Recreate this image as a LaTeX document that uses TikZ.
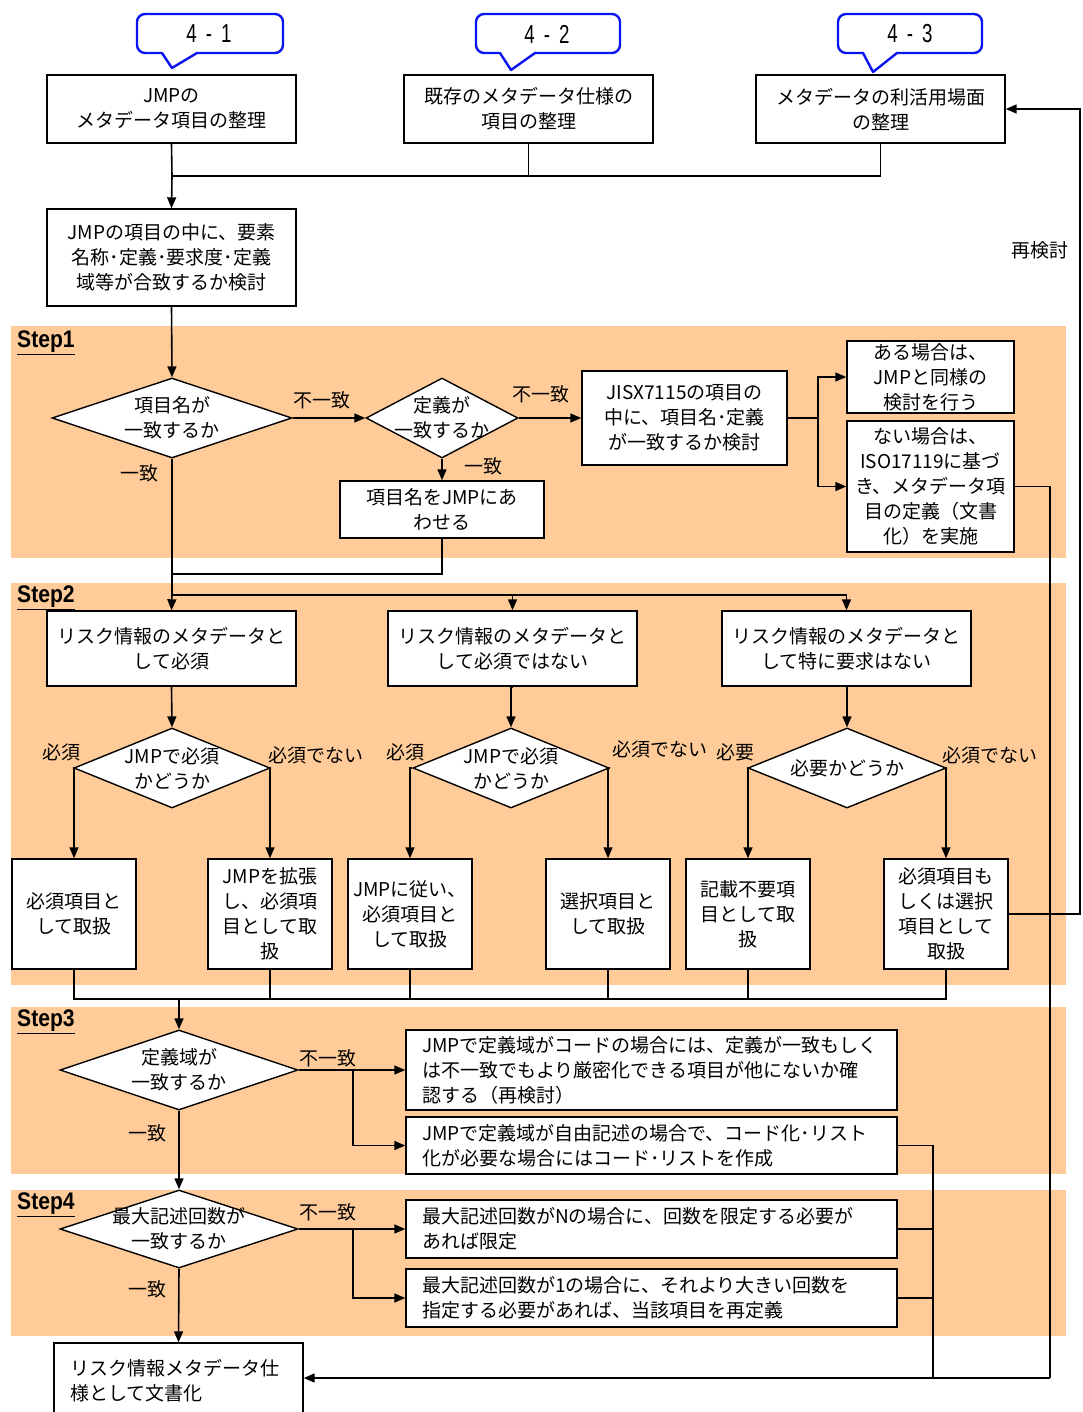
\documentclass[tikz,border=0pt]{standalone}
\usepackage{fontspec}
\usetikzlibrary{arrows.meta,shapes.geometric}
\newfontfamily\jp{Noto Sans CJK JP}
\newfontfamily\narrowfont[FakeStretch=0.72]{Liberation Sans}
\newfontfamily\stepfont[FakeStretch=0.88]{Liberation Sans}
\definecolor{peach}{HTML}{FFCC99}
\definecolor{callblue}{HTML}{0A14F0}
\begin{document}
\begin{tikzpicture}[x=1pt,y=-1pt]
\tikzset{
 base/.style={font=\jp\fontsize{19}{25}\selectfont},
 box/.style={base, draw, fill=white, line width=1.4pt, align=center, inner sep=0pt},
 lbox/.style={box, align=left, text width=459pt, minimum width=491pt},
 dia/.style={draw, fill=white, diamond, line width=1.4pt, inner sep=0pt},
 lab/.style={base, inner sep=0pt, align=center},
 conn/.style={line width=1.6pt},
 arr/.style={conn, -{Triangle[length=11pt,width=9pt]}},
 band/.style={fill=peach, draw=none},
 callout/.style={draw=callblue, fill=white, line width=2.4pt, line join=round},
 calltext/.style={font=\narrowfont\fontsize{26}{26}\selectfont, inner sep=0pt},
 steplab/.style={font=\stepfont\bfseries\fontsize{24}{24}\selectfont, inner sep=0pt, anchor=west},
}
\clip (0,0) rectangle (1082,1412);
\fill[white] (0,0) rectangle (1082,1412);
% bands
\fill[band] (11,326) rectangle (1066,558);
\fill[band] (11,583) rectangle (1066,985);
\fill[band] (11,1007) rectangle (1066,1174);
\fill[band] (11,1190) rectangle (1066,1336);
\node[steplab] (s1) at (17,343) {\underline{Step1}};
\node[steplab] (s2) at (17,598) {\underline{Step2}};
\node[steplab] (s3) at (17,1022) {\underline{Step3}};
\node[steplab] (s4) at (17,1205) {\underline{Step4}};
% callouts
\draw[callout] (162,53) [rounded corners=8pt] -- (137,53) -- (137,14) -- (283,14) -- (283,53) [sharp corners] -- (197,53) -- (172,68) -- cycle;
\draw[callout] (500,53) [rounded corners=8pt] -- (476,53) -- (476,14) -- (620,14) -- (620,53) [sharp corners] -- (535,53) -- (511,70) -- cycle;
\draw[callout] (863,53) [rounded corners=8pt] -- (838,53) -- (838,14) -- (982,14) -- (982,53) [sharp corners] -- (897,53) -- (873,72) -- cycle;
\node[calltext] (c41) at (209,34) {4\hspace{9pt}-\hspace{9pt}1};
\node[calltext] (c42) at (547,34) {4\hspace{9pt}-\hspace{9pt}2};
\node[calltext] (c43) at (910,34) {4\hspace{9pt}-\hspace{9pt}3};
% top boxes
\node[box, minimum width=249pt, minimum height=68pt] (a1) at (171.5,109) {JMPの\\メタデータ項目の整理};
\node[box, minimum width=249pt, minimum height=68pt] (a2) at (528.5,109) {既存のメタデータ仕様の\\項目の整理};
\node[box, minimum width=249pt, minimum height=68pt] (a3) at (880.5,109) {メタデータの利活用場面\\の整理};
\node[box, minimum width=249pt, minimum height=97pt] (b) at (171.5,257.5) {JMPの項目の中に、要素\\名称･定義･要求度･定義\\域等が合致するか検討};
% step1
\node[dia, minimum width=240pt, minimum height=80pt] (d1) at (172,418) {};
\node[lab] (d1t) at (d1) {項目名が\\一致するか};
\node[dia, minimum width=152pt, minimum height=80pt] (d2) at (442,418) {};
\node[lab] (d2t) at (d2) {定義が\\一致するか};
\node[box, minimum width=205pt, minimum height=94pt] (jis) at (684.5,418) {JISX7115の項目の\\中に、項目名･定義\\が一致するか検討};
\node[box, minimum width=204pt, minimum height=57pt] (awa) at (442,509.5) {項目名をJMPにあ\\わせる};
\node[box, minimum width=167pt, minimum height=72pt] (aru) at (930.5,377) {ある場合は、\\JMPと同様の\\検討を行う};
\node[box, minimum width=167pt, minimum height=131pt] (nai) at (930.5,486.5) {ない場合は、\\ISO17119に基づ\\き、メタデータ項\\目の定義（文書\\化）を実施};
% step2
\node[box, minimum width=249pt, minimum height=75pt] (c1) at (171.5,648.5) {リスク情報のメタデータと\\して必須};
\node[box, minimum width=249pt, minimum height=75pt] (c2) at (512.5,648.5) {リスク情報のメタデータと\\して必須ではない};
\node[box, minimum width=249pt, minimum height=75pt] (c3) at (846.5,648.5) {リスク情報のメタデータと\\して特に要求はない};
\node[dia, minimum width=196pt, minimum height=80pt] (e1) at (172,768) {};
\node[lab] (e1t) at (e1) {JMPで必須\\かどうか};
\node[dia, minimum width=196pt, minimum height=80pt] (e2) at (511,768) {};
\node[lab] (e2t) at (e2) {JMPで必須\\かどうか};
\node[dia, minimum width=198pt, minimum height=80pt] (e3) at (847,768) {};
\node[lab] (e3t) at (e3) {必要かどうか};
\node[box, minimum width=124pt, minimum height=110pt] (f1) at (74,914) {必須項目と\\して取扱};
\node[box, minimum width=124pt, minimum height=110pt] (f2) at (270,914) {JMPを拡張\\し、必須項\\目として取\\扱};
\node[box, minimum width=124pt, minimum height=110pt] (f3) at (410,914) {JMPに従い、\\必須項目と\\して取扱};
\node[box, minimum width=124pt, minimum height=110pt] (f4) at (608,914) {選択項目と\\して取扱};
\node[box, minimum width=124pt, minimum height=110pt] (f5) at (748,914) {記載不要項\\目として取\\扱};
\node[box, minimum width=124pt, minimum height=110pt] (f6) at (946,914) {必須項目も\\しくは選択\\項目として\\取扱};
% step3
\node[dia, minimum width=238pt, minimum height=80pt] (d3) at (179,1070) {};
\node[lab] (d3t) at (d3) {定義域が\\一致するか};
\node[lbox, minimum height=80pt] (g1) at (651.5,1070) {JMPで定義域がコードの場合には、定義が一致もしく\\は不一致でもより厳密化できる項目が他にないか確\\認する（再検討）};
\node[lbox, minimum height=57pt] (g2) at (651.5,1145.5) {JMPで定義域が自由記述の場合で、コード化･リスト\\化が必要な場合にはコード･リストを作成};
% step4
\node[dia, minimum width=238pt, minimum height=78pt] (d4) at (179,1229) {};
\node[lab] (d4t) at (d4) {最大記述回数が\\一致するか};
\node[lbox, minimum height=58pt] (h1) at (651.5,1229) {最大記述回数がNの場合に、回数を限定する必要が\\あれば限定};
\node[lbox, minimum height=58pt] (h2) at (651.5,1298) {最大記述回数が1の場合に、それより大きい回数を\\指定する必要があれば、当該項目を再定義};
\node[box, align=left, text width=217pt, minimum width=249pt, minimum height=75pt] (fin) at (178.5,1380.5) {リスク情報メタデータ仕\\様として文書化};
% coordinates
\coordinate (j0) at (172,176);
\coordinate (j1) at (818,418);
\coordinate (j2) at (172,595);
\coordinate (j9) at (172,574);
\coordinate (j3) at (179,999);
\coordinate (j4) at (353,1070);
\coordinate (j5) at (353,1229);
\coordinate (j6) at (933,1378);
\coordinate (j7) at (1050,1378);
\coordinate (j8) at (1080,109);
% connectors top
\draw[conn] (a1.south) -- (j0);
\draw[conn] (a2.south) |- (j0);
\draw[conn] (a3.south) |- (j0);
\draw[arr] (j0) -- (b.north);
\draw[arr] (b.south) -- (d1.north);
% step1
\draw[arr] (d1.east) -- (d2.west);
\draw[arr] (d2.east) -- (jis.west);
\draw[arr] (d2.south) -- (awa.north);
\draw[conn] (jis.east) -- (j1);
\draw[arr] (j1) |- (aru.west);
\draw[arr] (j1) |- (nai.west);
\draw[conn] (d1.south) -- (j2);
\draw[conn] (awa.south) |- (j9);
% step2
\draw[arr] (j2) -- (c1.north);
\draw[arr] (j2) -| (c2.north);
\draw[arr] (j2) -| (c3.north);
\draw[arr] (c1.south) -- (e1.north);
\draw[arr] (c2.south) -| (e2.north);
\draw[arr] (c3.south) -| (e3.north);
\draw[arr] (e1.west) -| (f1.north);
\draw[arr] (e1.east) -| (f2.north);
\draw[arr] (e2.west) -| (f3.north);
\draw[arr] (e2.east) -| (f4.north);
\draw[arr] (e3.west) -| (f5.north);
\draw[arr] (e3.east) -| (f6.north);
\draw[conn] (f1.south) |- (j3);
\draw[conn] (f2.south) |- (j3);
\draw[conn] (f3.south) |- (j3);
\draw[conn] (f4.south) |- (j3);
\draw[conn] (f5.south) |- (j3);
\draw[conn] (f6.south) |- (j3);
% step3
\draw[arr] (j3) -- (d3.north);
\draw[arr] (d3.east) -- (g1.west);
\draw[arr] (j4) |- (g2.west);
\draw[arr] (d3.south) -- (d4.north);
% step4
\draw[arr] (d4.east) -- (h1.west);
\draw[arr] (j5) |- (h2.west);
\draw[arr] (d4.south) -- (fin.north);
% return lines
\draw[conn] (g2.east) -| (j6);
\draw[conn] (h1.east) -- (h1.east -| j6);
\draw[conn] (h2.east) -- (h2.east -| j6);
\draw[conn] (nai.east) -| (j7);
\draw[arr] (j7) -- (fin.east |- j7);
\draw[arr] (f6.east) -| (j8) -- (a3.east);
% edge labels
\node[lab] (l1) at (322,400) {不一致};
\node[lab] (l2) at (541,394) {不一致};
\node[lab] (l3) at (483,466) {一致};
\node[lab] (l4) at (139,473) {一致};
\node[lab] (l5) at (61,752) {必須};
\node[lab] (l6) at (316,755) {必須でない};
\node[lab] (l7) at (405,752) {必須};
\node[lab] (l8) at (660,749) {必須でない};
\node[lab] (l9) at (735,752) {必要};
\node[lab] (l10) at (990,755) {必須でない};
\node[lab] (l11) at (328,1058) {不一致};
\node[lab] (l12) at (147,1133) {一致};
\node[lab] (l13) at (328,1212) {不一致};
\node[lab] (l14) at (147,1289) {一致};
\node[lab] (l15) at (1040,250) {再検討};
\end{tikzpicture}
\end{document}
